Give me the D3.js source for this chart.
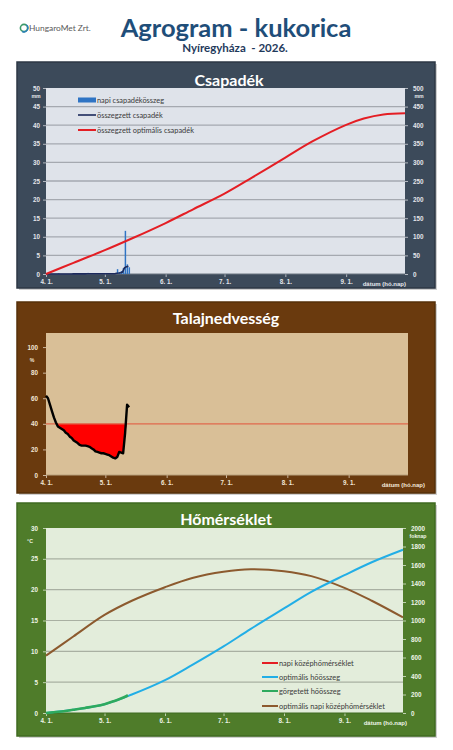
<!DOCTYPE html>
<html><head><meta charset="utf-8">
<script src="https://cdn.jsdelivr.net/npm/d3@7"></script>
<style>html,body{margin:0;padding:0;background:#fff;}svg{display:block;}</style>
</head><body>
<script>
// ---------- DATA ----------
const xTickDates = ["2026-04-01","2026-05-01","2026-06-01","2026-07-01","2026-08-01","2026-09-01"];
const xTickLabels = ["4. 1.","5. 1.","6. 1.","7. 1.","8. 1.","9. 1."];
const startDate = "2026-04-01";
const endDate = "2026-10-01";

// Csapadék
const precipLeftTicks = [0,5,10,15,20,25,30,35,40,45,50];
const precipRightTicks = [0,50,100,150,200,250,300,350,400,450,500];
const precipDaily = [0,0,0,0,0,0,0.2,0,0,0,0,0,0,0,0.1,0,0,0,0,0,0,0.3,0,0,0,0,0,0,0,0,0,0.2,0,0,0,0,1.3,0.5,0.8,1.6,11.6,2.6,1.8];
const precipCumul = [0,0,0,0,0,0,0.2,0.2,0.2,0.2,0.2,0.2,0.2,0.2,0.3,0.3,0.3,0.3,0.3,0.3,0.3,0.6,0.6,0.6,0.6,0.6,0.6,0.6,0.6,0.6,0.6,0.8,0.8,0.8,0.8,0.8,2.1,2.6,3.4,5.0,16.6,19.2,21.0];
const optPrecipDates = ["2026-04-01","2026-04-15","2026-05-01","2026-05-15","2026-06-01","2026-06-15","2026-07-01","2026-07-15","2026-08-01","2026-08-15","2026-09-01","2026-09-10","2026-09-20","2026-10-01"];
const optPrecipValues = [0,30,64,96,137,174,216,259,313,357,401,418,429,432];

// Talajnedvesség
const soilTicks = [0,20,40,60,80,100];
const soilDaily = [62,60,55,50,45,41,38,37,36,35,33,32,30,29,27,26,25,23.5,23,23,23,22.5,22,21,20,18.5,18,17.5,17,17,16.5,16,15.5,14.5,13.5,13,14,18,17.5,17,33,55,53];
const soilLimit = 40;

// Hőmérséklet
const tempLeftTicks = [0,5,10,15,20,25,30];
const tempRightTicks = [0,200,400,600,800,1000,1200,1400,1600,1800,2000];
const curveDates = ["2026-04-01","2026-04-15","2026-05-01","2026-05-15","2026-06-01","2026-06-15","2026-07-01","2026-07-15","2026-08-01","2026-08-15","2026-09-01","2026-09-15","2026-10-01"];
const optTempValues = [9.3,12.4,15.9,18.2,20.4,21.9,22.9,23.3,23.0,22.2,20.3,18.2,15.5];
const optHeatValues = [0,35,95,200,355,520,720,910,1130,1310,1490,1630,1765];
const rolledHeatDays = [0,5,10,15,20,25,30,35,40,42];
const rolledHeatValues = [0,10,22,38,55,72,95,130,170,192];
const dailyTempValues = []; // not drawn in reference

const legend1 = ["napi csapadékösszeg","összegzett csapadék","összegzett optimális csapadék"];
const legend3 = ["napi középhőmérséklet","optimális hőösszeg","görgetett hőösszeg","optimális napi középhőmérséklet"];

// ---------- DRAW ----------
const W = 453, H = 750;
const svg = d3.select("body").append("svg").attr("width", W).attr("height", H);
svg.append("rect").attr("width", W).attr("height", H).attr("fill", "#fff");
const parse = d3.timeParse("%Y-%m-%d");
const tickDates = xTickDates.map(parse);
const dayDate = i => d3.timeDay.offset(parse(startDate), i);
const TF = "Liberation Sans, Arial, sans-serif";
const HF = "Lato, 'Open Sans', sans-serif";
const fmtInt = d3.format("d");

// Header
const logo = svg.append("g");
logo.append("circle").attr("cx", 24).attr("cy", 28).attr("r", 3.6).attr("fill", "none").attr("stroke", "#3c9a6a").attr("stroke-width", 1.6);
logo.append("path").attr("d", d3.arc()({innerRadius: 3.2, outerRadius: 4.6, startAngle: 0.6, endAngle: 3.6})).attr("transform", "translate(24,28)").attr("fill", "#2a7fb8");
logo.append("text").attr("x", 29).attr("y", 31).text("HungaroMet Zrt.").attr("font-family", HF).attr("font-size", 8.4).attr("fill", "#5a5a5a");
svg.append("text").attr("x", 236).attr("y", 37).attr("text-anchor", "middle").text("Agrogram - kukorica")
  .attr("font-family", HF).attr("font-weight", "bold").attr("font-size", 25.5).attr("fill", "#1f4e79");
svg.append("text").attr("x", 235).attr("y", 51.5).attr("text-anchor", "middle").text("Nyíregyháza  - 2026.")
  .attr("font-family", HF).attr("font-weight", "bold").attr("font-size", 11.5).attr("fill", "#1f3a5c").attr("xml:space","preserve");

function panel(o) {
  const g = svg.append("g");
  g.append("rect").attr("x", o.bx0 + 2).attr("y", o.by0 + 2).attr("width", o.bx1 - o.bx0).attr("height", o.by1 - o.by0).attr("fill", "#cfcfcf");
  g.append("rect").attr("x", o.bx0).attr("y", o.by0).attr("width", o.bx1 - o.bx0).attr("height", o.by1 - o.by0).attr("fill", o.bg).attr("stroke", o.edge).attr("stroke-width", 1.5);
  g.append("text").attr("x", o.tx).attr("y", o.ty).attr("text-anchor", "middle").text(o.title)
    .attr("font-family", HF).attr("font-weight", "bold").attr("font-size", 16).attr("fill", "#fff");
  g.append("rect").attr("x", o.px0).attr("y", o.py0).attr("width", o.px1 - o.px0).attr("height", o.py1 - o.py0).attr("fill", o.plotBg);
  const x = d3.scaleTime().domain([parse(startDate), parse(endDate)]).range([o.px0, o.px1]);
  return {g, x};
}
function styleAxis(sel, color) {
  sel.selectAll("text").attr("font-family", TF).attr("font-size", 6.3).attr("font-weight", "bold").attr("fill", color);
  sel.selectAll("line").attr("stroke", color).attr("stroke-opacity", 0.7);
  sel.select(".domain").remove();
}
function xAxis(p, yPos, color, lineColor, x1) {
  const ax = p.g.append("g").attr("transform", `translate(0,${yPos})`)
    .call(d3.axisBottom(p.x).tickValues(tickDates).tickFormat((d, i) => xTickLabels[i]).tickSize(3).tickPadding(3));
  styleAxis(ax, color);
  p.g.append("line").attr("x1", p.x.range()[0]).attr("x2", p.x.range()[1]).attr("y1", yPos).attr("y2", yPos).attr("stroke", lineColor).attr("stroke-width", 1);
  p.g.append("text").attr("x", x1).attr("y", yPos + 12).attr("text-anchor", "end").text("dátum (hó.nap)")
    .attr("font-family", TF).attr("font-size", 6).attr("font-weight", "bold").attr("fill", color);
}
function unitLabel(g, x, y, t, color) {
  g.append("text").attr("x", x).attr("y", y).attr("text-anchor", "middle").text(t)
    .attr("font-family", TF).attr("font-size", 5.2).attr("font-weight", "bold").attr("fill", color);
}

// ---- Panel 1: Csapadék ----
{
  const o = {bx0: 17, bx1: 435, by0: 62, by1: 288, bg: "#3c4a5a", edge: "#2c3744", title: "Csapadék", tx: 229, ty: 86,
    px0: 46, px1: 405, py0: 88, py1: 274, plotBg: "#dfe3ea"};
  const p = panel(o);
  const yL = d3.scaleLinear().domain([0, 50]).range([o.py1, o.py0]);
  const yR = d3.scaleLinear().domain([0, 500]).range([o.py1, o.py0]);
  p.g.append("g").selectAll("line").data(precipLeftTicks.filter(v => v > 0 && v < 50)).join("line")
    .attr("x1", o.px0).attr("x2", o.px1).attr("y1", d => yL(d)).attr("y2", d => yL(d)).attr("stroke", "#a5a9b0").attr("stroke-width", 1.3);
  const la = p.g.append("g").attr("transform", `translate(${o.px0},0)`).call(d3.axisLeft(yL).tickValues(precipLeftTicks).tickSize(3).tickPadding(3));
  styleAxis(la, "#e4e6ea");
  const ra = p.g.append("g").attr("transform", `translate(${o.px1},0)`).call(d3.axisRight(yR).tickValues(precipRightTicks).tickFormat(fmtInt).tickSize(3).tickPadding(5));
  styleAxis(ra, "#e4e6ea");
  unitLabel(p.g, 36, yL(47.4), "mm", "#e4e6ea");
  unitLabel(p.g, 419, yL(47.4), "mm", "#e4e6ea");
  xAxis(p, o.py1, "#e4e6ea", "#6b7480", 406);
  // bars
  p.g.append("g").selectAll("rect").data(precipDaily).join("rect")
    .attr("x", (d, i) => p.x(dayDate(i)) + 0.2).attr("width", (d, i) => Math.max(1.2, p.x(dayDate(i + 1)) - p.x(dayDate(i)) - 0.5))
    .attr("y", d => yL(d)).attr("height", d => o.py1 - yL(d)).attr("fill", "#2f74c4");
  p.g.append("path").datum(precipCumul).attr("fill", "none").attr("stroke", "#1c2a5c").attr("stroke-width", 1.6)
    .attr("d", d3.line().x((d, i) => p.x(dayDate(i))).y(d => yR(d)));
  p.g.append("path").datum(optPrecipValues).attr("fill", "none").attr("stroke", "#e41e24").attr("stroke-width", 2)
    .attr("d", d3.line().curve(d3.curveCatmullRom.alpha(0.5)).x((d, i) => p.x(parse(optPrecipDates[i]))).y(d => yR(d)));
  // legend
  const lg = p.g.append("g");
  const ly = [100, 115, 130];
  lg.append("rect").attr("x", 78).attr("y", ly[0] - 2.5).attr("width", 18).attr("height", 5).attr("fill", "#2f74c4");
  lg.append("line").attr("x1", 78).attr("x2", 96).attr("y1", ly[1]).attr("y2", ly[1]).attr("stroke", "#1c2a5c").attr("stroke-width", 1.6);
  lg.append("line").attr("x1", 78).attr("x2", 96).attr("y1", ly[2]).attr("y2", ly[2]).attr("stroke", "#e41e24").attr("stroke-width", 2);
  lg.selectAll("text").data(legend1).join("text").attr("x", 97).attr("y", (d, i) => ly[i] + 2.5).text(d => d)
    .attr("font-family", HF).attr("font-size", 7.4).attr("fill", "#3a3a3a");
}

// ---- Panel 2: Talajnedvesség ----
{
  const o = {bx0: 17, bx1: 435, by0: 302, by1: 493, bg: "#6a3a0e", edge: "#55300a", title: "Talajnedvesség", tx: 226, ty: 324,
    px0: 46, px1: 408, py0: 333, py1: 475, plotBg: "#d9bf97"};
  const p = panel(o);
  const y = d3.scaleLinear().domain([0, 111]).range([o.py1, o.py0]);
  const la = p.g.append("g").attr("transform", `translate(${o.px0},0)`).call(d3.axisLeft(y).tickValues(soilTicks).tickSize(3).tickPadding(5));
  styleAxis(la, "#f3e8d8");
  unitLabel(p.g, 32, y(88.5), "%", "#f3e8d8");
  xAxis(p, o.py1, "#f3e8d8", "#b8a07c", 425);
  p.g.append("path").datum(soilDaily).attr("fill", "#ff0000")
    .attr("d", d3.area().x((d, i) => p.x(dayDate(i))).y0(y(soilLimit)).y1(d => y(Math.min(d, soilLimit))));
  p.g.append("line").attr("x1", o.px0).attr("x2", o.px1).attr("y1", y(soilLimit)).attr("y2", y(soilLimit)).attr("stroke", "#e0694c").attr("stroke-width", 1.3);
  p.g.append("path").datum(soilDaily).attr("fill", "none").attr("stroke", "#000").attr("stroke-width", 2.4).attr("stroke-linejoin", "round")
    .attr("d", d3.line().x((d, i) => p.x(dayDate(i))).y(d => y(d)));
}

// ---- Panel 3: Hőmérséklet ----
{
  const o = {bx0: 17, bx1: 435, by0: 503, by1: 736, bg: "#4f7c2a", edge: "#3f6a20", title: "Hőmérséklet", tx: 226, ty: 525,
    px0: 46, px1: 403, py0: 528, py1: 713, plotBg: "#e3eddb"};
  const p = panel(o);
  const yL = d3.scaleLinear().domain([0, 30]).range([o.py1, o.py0]);
  const yR = d3.scaleLinear().domain([0, 2000]).range([o.py1, o.py0]);
  p.g.append("g").selectAll("line").data(tempLeftTicks.filter(v => v > 0 && v < 30)).join("line")
    .attr("x1", o.px0).attr("x2", o.px1).attr("y1", d => yL(d)).attr("y2", d => yL(d)).attr("stroke", "#a9b0a2").attr("stroke-width", 1.2);
  const la = p.g.append("g").attr("transform", `translate(${o.px0},0)`).call(d3.axisLeft(yL).tickValues(tempLeftTicks).tickSize(3).tickPadding(5));
  styleAxis(la, "#eef5e6");
  const ra = p.g.append("g").attr("transform", `translate(${o.px1},0)`).call(d3.axisRight(yR).tickValues(tempRightTicks).tickFormat(fmtInt).tickSize(3).tickPadding(5));
  styleAxis(ra, "#eef5e6");
  unitLabel(p.g, 30, yL(27.6), "°C", "#eef5e6");
  unitLabel(p.g, 418, yR(1890), "foknap", "#eef5e6");
  xAxis(p, o.py1, "#eef5e6", "#3f6a20", 407);
  p.g.append("path").datum(optTempValues).attr("fill", "none").attr("stroke", "#8c5a2e").attr("stroke-width", 2)
    .attr("d", d3.line().curve(d3.curveCatmullRom.alpha(0.5)).x((d, i) => p.x(parse(curveDates[i]))).y(d => yL(d)));
  p.g.append("path").datum(optHeatValues).attr("fill", "none").attr("stroke", "#22aee6").attr("stroke-width", 2)
    .attr("d", d3.line().curve(d3.curveCatmullRom.alpha(0.5)).x((d, i) => p.x(parse(curveDates[i]))).y(d => yR(d)));
  p.g.append("path").datum(rolledHeatValues).attr("fill", "none").attr("stroke", "#2eaa5e").attr("stroke-width", 2.6)
    .attr("d", d3.line().curve(d3.curveMonotoneX).x((d, i) => p.x(dayDate(rolledHeatDays[i]))).y(d => yR(d)));
  // legend
  const cols = ["#e41e24", "#22aee6", "#2eaa5e", "#8c5a2e"];
  const ly = [663, 677, 691, 706];
  const lg = p.g.append("g");
  lg.selectAll("line").data(legend3).join("line").attr("x1", 262).attr("x2", 278).attr("y1", (d, i) => ly[i]).attr("y2", (d, i) => ly[i])
    .attr("stroke", (d, i) => cols[i]).attr("stroke-width", 2);
  lg.selectAll("text").data(legend3).join("text").attr("x", 279).attr("y", (d, i) => ly[i] + 2.5).text(d => d)
    .attr("font-family", HF).attr("font-size", 7.4).attr("fill", "#3a3a3a");
}
</script>
</body></html>
